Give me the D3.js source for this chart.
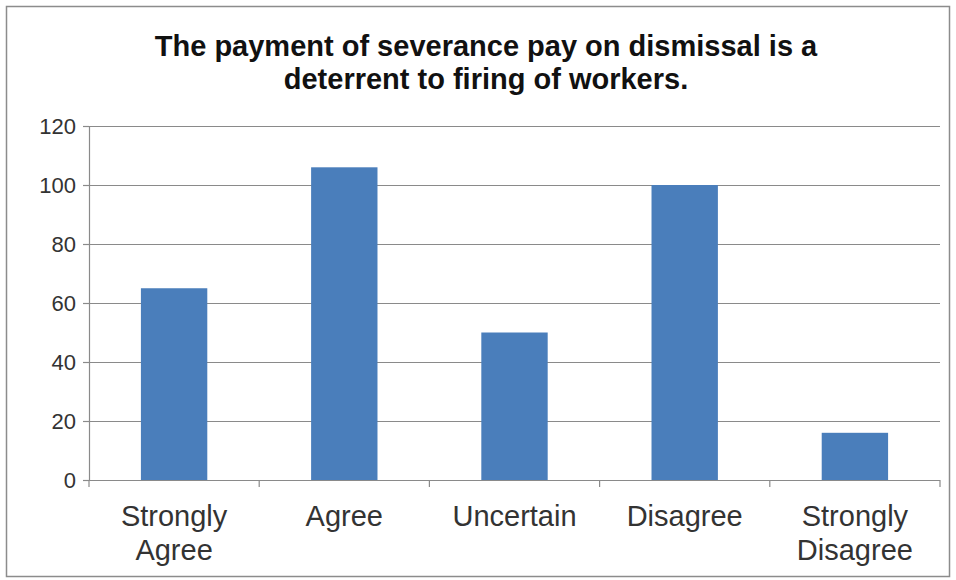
<!DOCTYPE html>
<html>
<head>
<meta charset="utf-8">
<script src="https://cdn.jsdelivr.net/npm/d3@7"></script>
<style>
  html, body { margin: 0; padding: 0; background: #fff; }
  svg { display: block; }
</style>
</head>
<body>
<svg id="chart" width="956" height="580"></svg>
<script>
// Survey responses
const categories = ["Strongly Agree", "Agree", "Uncertain", "Disagree", "Strongly Disagree"];
const responses = [65, 106, 50, 100, 16];
const yTicks = [0, 20, 40, 60, 80, 100, 120];
const titleLines = ["The payment of severance pay on dismissal is a", "deterrent to firing of workers."];

const svg = d3.select("#chart");
const W = 956, H = 580;
const plot = { left: 89, right: 940, top: 126, bottom: 480 };

// outer frame
svg.append("rect")
  .attr("x", 6.5).attr("y", 6.5)
  .attr("width", W - 13).attr("height", H - 10)
  .attr("fill", "#fff").attr("stroke", "#8c8c8c").attr("stroke-width", 1.5);

// title
const title = svg.append("text")
  .attr("text-anchor", "middle")
  .attr("font-family", "'Liberation Sans', Arial, sans-serif")
  .attr("font-weight", "bold")
  .attr("font-size", 29)
  .attr("fill", "#111");
titleLines.forEach((line, i) => {
  title.append("tspan")
    .attr("x", 486)
    .attr("y", 56 + i * 33)
    .text(line);
});

const x = d3.scaleBand()
  .domain(categories)
  .range([plot.left, plot.right])
  .paddingInner(0.61)
  .paddingOuter(0.305);

const y = d3.scaleLinear()
  .domain([0, 120])
  .range([plot.bottom, plot.top]);

// horizontal gridlines
svg.append("g")
  .selectAll("line")
  .data(yTicks.filter(d => d > 0))
  .join("line")
  .attr("x1", plot.left).attr("x2", plot.right)
  .attr("y1", d => Math.round(y(d)) + 0.5).attr("y2", d => Math.round(y(d)) + 0.5)
  .attr("stroke", "#8a8a8a").attr("stroke-width", 1.2);

// bars
svg.append("g")
  .selectAll("rect")
  .data(categories.map((c, i) => ({ c, v: responses[i] })))
  .join("rect")
  .attr("x", d => x(d.c))
  .attr("width", x.bandwidth())
  .attr("y", d => y(d.v))
  .attr("height", d => y(0) - y(d.v))
  .attr("fill", "#4a7ebb");

// y axis
const yAxis = svg.append("g")
  .attr("transform", `translate(${plot.left},0)`)
  .call(d3.axisLeft(y).tickValues(yTicks).tickSize(6).tickPadding(6).tickSizeOuter(0));
yAxis.select(".domain").attr("stroke", "#8a8a8a").attr("stroke-width", 1.2);
yAxis.selectAll(".tick line").attr("stroke", "#8a8a8a").attr("stroke-width", 1.2);
yAxis.selectAll(".tick text")
  .attr("font-family", "'Liberation Sans', Arial, sans-serif")
  .attr("font-size", 22)
  .attr("fill", "#333")
  .attr("dx", -1);

// x axis with category boundary ticks
const xAxis = svg.append("g")
  .attr("transform", `translate(0,${plot.bottom})`);
xAxis.append("line")
  .attr("x1", plot.left).attr("x2", plot.right)
  .attr("y1", 0.5).attr("y2", 0.5)
  .attr("stroke", "#8a8a8a").attr("stroke-width", 1.2);
const step = x.step();
const bounds = d3.range(categories.length + 1).map(i => plot.left + i * step);
xAxis.selectAll(".bound")
  .data(bounds)
  .join("line")
  .attr("class", "bound")
  .attr("x1", d => d).attr("x2", d => d)
  .attr("y1", 0).attr("y2", 7)
  .attr("stroke", "#8a8a8a").attr("stroke-width", 1.2);

const labels = xAxis.selectAll(".cat")
  .data(categories)
  .join("text")
  .attr("class", "cat")
  .attr("text-anchor", "middle")
  .attr("font-family", "'Liberation Sans', Arial, sans-serif")
  .attr("font-size", 29)
  .attr("fill", "#333");
labels.each(function(d) {
  const words = d.split(" ");
  const t = d3.select(this);
  words.forEach((w, i) => {
    t.append("tspan")
      .attr("x", x(d) + x.bandwidth() / 2)
      .attr("y", 46 + i * 34)
      .text(w);
  });
});
</script>
</body>
</html>
